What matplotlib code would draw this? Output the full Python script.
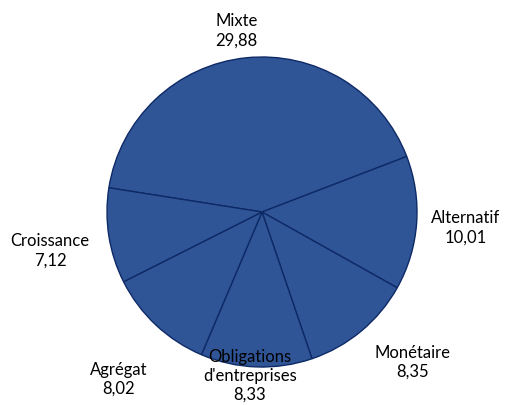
import numpy as np
import matplotlib.pyplot as plt

categories = ['Mixte', 'Alternatif', 'Monétaire', "Obligations\nd'entreprises", 'Agrégat', 'Croissance']
values = [29.88, 10.01, 8.35, 8.33, 8.02, 7.12]
value_labels = ['29,88', '10,01', '8,35', '8,33', '8,02', '7,12']

# label placement (angle in degrees, radius in pie radii)
label_pos = [(98, 1.18), (-4.5, 1.32), (-45, 1.37), (-94.2, 1.06), (-130.5, 1.42), (-169.6, 1.39)]

plt.rcParams['font.family'] = ['Lato', 'DejaVu Sans']

fig = plt.figure(figsize=(5.05, 4.05), dpi=100)
ax = fig.add_axes([0, 0, 1, 1])

ax.pie(values, startangle=171, counterclock=False, radius=1.0,
       colors=['#2F5597'] * len(values),
       wedgeprops=dict(edgecolor='#0E2A66', linewidth=1.0))

for cat, lab, (ang, r) in zip(categories, value_labels, label_pos):
    x = r * np.cos(np.radians(ang))
    y = r * np.sin(np.radians(ang))
    ax.text(x, y, cat + '\n' + lab, ha='center', va='center',
            fontsize=12, color='black', linespacing=1.25)

# center of pie at pixel (262, 212), radius 155 px
ax.set_xlim(-262 / 155, (505 - 262) / 155)
ax.set_ylim((212 - 405) / 155, 212 / 155)
ax.set_aspect('auto')
ax.axis('off')

fig.savefig('out.png', dpi=100)
